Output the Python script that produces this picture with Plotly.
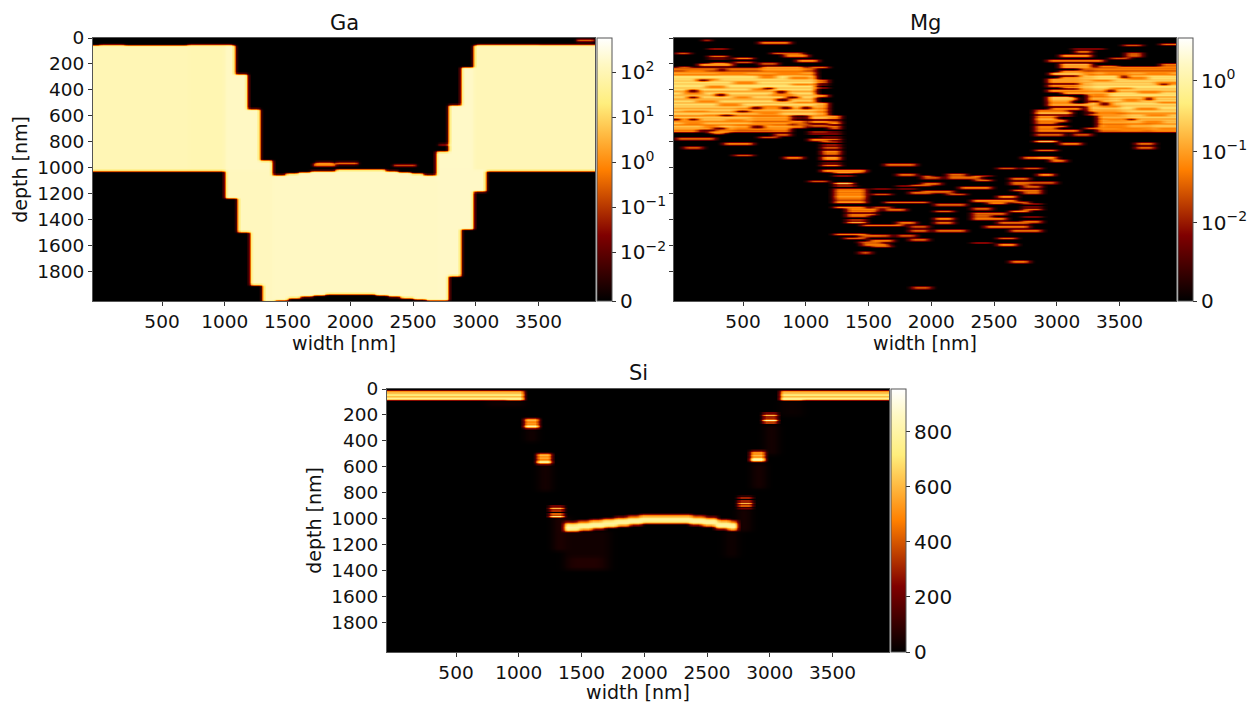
import numpy as np
import plotly.graph_objects as go

FONT = "DejaVu Sans"
X_TICKS = [500, 1000, 1500, 2000, 2500, 3000, 3500]
Y_TICKS = [0, 200, 400, 600, 800, 1000, 1200, 1400, 1600, 1800]
AFMHOT = [[0, "rgb(0,0,0)"], [0.25, "rgb(128,0,0)"], [0.5, "rgb(255,128,0)"],
          [0.75, "rgb(255,238,125)"], [0.9, "rgb(255,248,195)"], [1, "rgb(255,255,255)"]]

# --- Ga: stepped outline of the material (depth limits per width interval)
GA_TOP_EDGES = [-50, 1090, 1190, 1290, 1390, 1490, 1590, 1690, 1790, 1890, 1990, 2090, 2190, 2290,
                2390, 2490, 2590, 2690, 2790, 2890, 2990, 3950]
GA_TOP = [60, 273, 541, 948, 1060, 1050, 1040, 1030, 1022, 1018, 1015, 1015, 1018, 1025,
          1035, 1045, 1055, 871, 515, 227, 58]
GA_BOT_EDGES = [-50, 1005, 1105, 1205, 1305, 1405, 1505, 1605, 1705, 1805, 1905, 2005, 2105, 2205,
                2305, 2405, 2505, 2605, 2785, 2885, 2985, 3085, 3950]
GA_BOT = [1020, 1232, 1497, 1902, 2031, 2020, 2005, 1992, 1982, 1976, 1975, 1973, 1972, 1980,
          1992, 2005, 2018, 2020, 1832, 1477, 1186, 1020]
# (x0, x1, depth0, depth1, level)
GA_LEVELS = [(-50, 700, 0, 1020, 100), (700, 1090, 0, 1020, 93), (1005, 1390, 0, 1020, 150),
             (1005, 1390, 1020, 2040, 130), (1390, 2700, 1000, 2040, 150), (2690, 2990, 0, 1100, 165),
             (2990, 3950, 0, 1020, 105), (2700, 3090, 1020, 2040, 160)]
# (depth, x0, x1, level)
GA_STREAKS = [(50, 0, 200, 0.5), (50, 700, 1060, 1.2), (50, 3010, 3500, 2), (50, 3500, 3950, 0.8),
              (10, 3800, 3930, 1.2), (970, 1700, 1880, 3), (960, 1720, 1860, 2), (960, 1880, 2050, 2),
              (975, 2340, 2520, 2), (815, 2710, 2790, 2)]

# --- Mg: dense band rows, depth 230..720 every 10 nm
MG_ROW_DEPTHS = list(range(230, 730, 10))
MG_LEFT_ROWS = [.06, .12, .04, .15, .3, .1, .34, .38, .26, .4, .16, .38, .2, .38, .4, .16, .38, .34, .12, .4,
                .3, .16, .4, .2, .14, .38, .3, .12, .34, .18, .34, .12, .3, .18, .08, .26, .18, .04, .22, .12,
                .26, .07, .22, .16, .04, .2, .1, .15, .05, .08]
MG_RIGHT_ROWS = [.08, .15, .06, .22, .34, .12, .38, .3, .38, .16, .4, .2, .38, .16, .4, .34, .16, .38, .12, .4,
                 .3, .38, .07, .34, .2, .38, .12, .4, .3, .16, .38, .34, .15, .38, .2, .08, .3, .18, .26, .07,
                 .22, .16, .22, .05, .2, .22, .08, .15, .07, .04]
# (depth0, depth1, x limit) of the left block, (x start) for the right block
MG_LEFT_LIMITS = [(230, 500, 1076), (500, 600, 1182), (600, 730, 877)]
MG_RIGHT_LIMITS = [(230, 400, 3180), (400, 600, 3250), (600, 730, 3320)]
# dim stretches (depth0, depth1, x0, x1, factor)
MG_DIM = [(540, 600, 450, 800, .6), (610, 660, 560, 880, .5), (670, 730, 420, 880, .6), (500, 600, 1076, 1182, .45),
          (230, 280, -50, 1080, .35), (230, 280, 3180, 3950, .35), (560, 640, 3320, 3560, .6), (650, 730, 3320, 3750, .65),
          (400, 480, 3250, 3420, .55), (490, 600, 3250, 3500, .6), (230, 320, 3180, 3300, .6), (330, 400, 3180, 3270, .6)]
# orange dashes inside the bright band (depth, x0, x1)
MG_DASHES = [(250, 40, 200), (270, 300, 520), (270, 760, 960), (290, 620, 760), (300, 860, 1040), (310, 120, 300),
             (340, 420, 600), (350, 880, 1060), (370, 200, 350), (390, 560, 700), (420, 20, 180), (430, 720, 900),
             (450, 420, 560), (480, 120, 300), (490, 900, 1060), (510, 300, 480), (520, 640, 800), (560, 20, 220),
             (570, 620, 780), (590, 180, 340), (630, 360, 520), (650, 20, 180), (660, 560, 720), (680, 180, 300),
             (690, 420, 560), (260, 3380, 3560), (270, 3700, 3900), (300, 3560, 3720), (320, 3280, 3430), (340, 3780, 3950),
             (380, 3420, 3600), (410, 3640, 3820), (430, 3260, 3400), (470, 3520, 3660), (490, 3800, 3950), (520, 3340, 3500),
             (540, 3620, 3800), (570, 3320, 3480), (590, 3700, 3880), (620, 3400, 3520), (640, 3680, 3840), (670, 3360, 3560),
             (690, 3800, 3950), (700, 3500, 3680)]
# dark holes (depth, x0, x1)
MG_HOLES = [(325, 150, 220), (397, 70, 130), (428, 280, 360), (379, 670, 740), (410, 760, 830), (448, 70, 140),
            (453, 850, 930), (474, 770, 850), (556, 450, 530), (533, 560, 640), (531, 800, 880), (531, 960, 1030),
            (616, 55, 130), (616, -50, 0), (693, 260, 350), (608, 880, 1000), (675, 570, 650), (590, 330, 410),
            (240, 300, 360), (710, 150, 270), (350, 3820, 3880), (400, 3400, 3460), (500, 3350, 3420),
            (620, 3560, 3620), (290, 3500, 3560), (460, 3700, 3760), (480, 3270, 3330), (510, 3120, 3200), (570, 3230, 3300)]
# (depth, x0, x1, level)
MG_STREAKS = [
    (6, 186, 239, .04), (26, 624, 877, .05), (114, -40, 80, .04), (75, 226, 385, .08), (145, 226, 385, .04),
    (152, 425, 585, .08), (183, 425, 585, .04), (109, 717, 970, .05), (134, 824, 1010, .1), (170, 930, 1090, .07),
    (186, 624, 784, .04), (217, 1023, 1183, .06), (204, 133, 425, .1), (186, 240, 372, .06), (222, -27, 80, .05),
    (222, 637, 983, .15), (240, 637, 983, .1), (320, 1090, 1183, .06), (345, 1090, 1183, .04), (375, 1090, 1183, .06),
    (440, 1090, 1180, .08), (500, 1090, 1182, .1), (530, 1090, 1182, .05),
    (770, -40, 279, .05), (840, 26, 186, .04), (809, 332, 585, .05), (899, 425, 585, .04), (917, 824, 983, .05),
    (762, 624, 784, .04), (737, 731, 877, .05), (718, 226, 372, .12), (725, 270, 340, .12), (700, 730, 880, .1),
    (585, 1023, 1183, .12), (610, 1023, 1183, .2), (640, 1023, 1183, .08), (670, 1023, 1183, .05),
    (715, 1023, 1183, .15), (725, 1030, 1180, .12),
    (603, 1183, 1289, .15), (625, 1183, 1289, .05), (650, 1183, 1289, .12), (680, 1183, 1289, .05),
    (705, 1183, 1289, .04), (745, 1116, 1289, .04), (775, 1116, 1289, .04), (795, 1116, 1289, .15),
    (805, 1140, 1289, .15), (815, 1116, 1289, .1), (840, 1116, 1289, .04), (870, 1116, 1289, .1),
    (890, 1116, 1289, .04), (915, 1116, 1289, .1), (930, 1116, 1289, .08), (945, 1116, 1289, .04), (975, 1116, 1289, .06),
    (782, 1023, 1183, .06), (1101, 1023, 1183, .04), (640, 880, 1000, .08), (660, 900, 1010, .05), (680, 880, 1000, .06),
    (973, 1621, 1887, .06), (1050, 1728, 1887, .04), (1065, 1927, 1994, .05), (1127, 1834, 1994, .05),
    (1145, 1728, 1874, .05), (1155, 1528, 1688, .04), (1204, 1528, 1675, .04), (1186, 1821, 1994, .04),
    (1258, 1621, 1980, .06), (1297, 1528, 1675, .04), (1320, 1621, 1794, .04), (1418, 1728, 1874, .05),
    (1444, 1435, 1781, .07), (1451, 1821, 1980, .04), (1482, 1821, 1980, .05), (1516, 1728, 1887, .04),
    (1547, 1821, 1980, .05), (1521, 1528, 1688, .04), (1555, 1528, 1688, .05), (1601, 1528, 1688, .05),
    (1573, 1422, 1595, .05), (1650, 1422, 1528, .04),
    (1019, 1116, 1489, .08), (1045, 1223, 1382, .15), (1030, 1223, 1450, .06),
    (1115, 1223, 1382, .2), (1125, 1223, 1382, .25), (1135, 1223, 1400, .15), (1160, 1223, 1489, .06),
    (1180, 1223, 1489, .1), (1200, 1223, 1489, .08), (1220, 1223, 1489, .1),
    (1240, 1223, 1489, .05), (1258, 1223, 1489, .12), (1300, 1223, 1489, .1),
    (1320, 1330, 1580, .06), (1345, 1330, 1560, .1), (1370, 1330, 1500, .05), (1395, 1330, 1489, .15),
    (1405, 1330, 1489, .2), (1415, 1340, 1489, .12), (1510, 1223, 1489, .08), (1540, 1300, 1489, .05),
    (1520, 1420, 1600, .06), (1560, 1500, 1700, .04), (1590, 1450, 1650, .05),
    (916, 2725, 2977, .05), (922, 2831, 2990, .1), (942, 2937, 3030, .08), (999, 2525, 2685, .04), (999, 2725, 2884, .04),
    (1053, 2831, 2977, .07), (1066, 1914, 2073, .04), (1050, 2127, 2286, .04), (1071, 2127, 2392, .06), (1055, 2326, 2485, .06),
    (1086, 2339, 2485, .06), (1081, 2618, 2778, .04), (1110, 2618, 2990, .04), (1122, 2618, 2778, .04), (1117, 1914, 2073, .04),
    (1148, 2220, 2485, .05), (1143, 2725, 2884, .05), (1166, 2632, 2884, .07), (1194, 2725, 2884, .04),
    (1179, 1914, 2180, .06), (1200, 2127, 2286, .04), (1220, 2525, 2685, .07), (1246, 2326, 2685, .07), (1269, 2432, 2592, .08),
    (1259, 2632, 2778, .05), (1277, 2020, 2286, .05), (1285, 2725, 2884, .05), (1308, 2326, 2485, .05), (1315, 2725, 2884, .04),
    (1331, 2020, 2180, .05), (1333, 2618, 2778, .1), (1354, 2326, 2592, .06), (1369, 2326, 2485, .04), (1390, 2326, 2592, .05),
    (1393, 2020, 2180, .06), (1418, 2020, 2180, .04), (1375, 2725, 2884, .04), (1406, 2725, 2884, .06), (1424, 2525, 2778, .04),
    (1452, 2419, 2778, .07), (1478, 2618, 2884, .06), (1483, 2020, 2286, .06), (1547, 1914, 1980, .05), (1575, 2326, 2485, .06),
    (1544, 2525, 2685, .05), (1588, 2525, 2685, .07), (1720, 2618, 2778, .07), (1920, 1840, 1994, .04),
    (52, 3522, 3682, .04), (42, 3828, 3950, .06), (75, 3123, 3389, .05), (101, 3137, 3283, .04), (109, 3535, 3682, .04),
    (127, 3535, 3682, .05), (134, 3030, 3283, .12), (152, 3429, 3589, .04), (173, 2924, 3376, .05), (204, 3030, 3283, .15),
    (222, 3030, 3283, .15), (209, 3323, 3482, .08), (222, 3482, 3950, .08), (204, 3828, 3950, .05),
    (250, 3030, 3200, .12), (270, 2940, 3200, .2), (285, 3030, 3240, .15), (307, 2924, 3240, .15), (332, 2924, 3240, .15), (358, 2924, 3240, .1),
    (375, 3040, 3240, .12), (397, 2924, 3240, .12), (420, 3040, 3240, .15), (450, 2924, 3120, .2), (460, 2924, 3150, .25), (470, 2924, 3120, .2), (487, 2924, 3120, .1),
    (513, 2924, 3230, .12), (540, 2950, 3200, .06), (551, 2818, 3084, .06), (572, 2818, 3110, .1), (585, 2818, 3120, .15),
    (598, 2818, 3000, .12), (634, 2818, 3084, .1), (675, 2818, 3084, .05), (713, 2818, 3170, .06), (739, 2818, 3060, .05),
    (736, 3123, 3283, .04), (620, 2818, 3000, .2), (650, 2820, 3000, .06), (690, 2820, 3000, .07),
    (693, 3217, 3403, .05), (788, 2818, 2990, .2), (795, 2818, 2990, .2), (809, 3030, 3190, .05), (860, 2818, 2990, .06),
    (919, 2725, 2990, .05), (942, 2937, 3084, .05), (809, 3628, 3788, .04), (842, 3628, 3788, .05),
]

# --- Si: depth profiles of the top strip, the wall spots and the trench band
SI_STRIP_DEPTHS = [10, 20, 30, 40, 50, 60, 70, 80]
SI_STRIP_VALUES = [450, 580, 620, 770, 650, 560, 760, 520]
SI_STRIP_SPANS = [(-50, 1030), (3075, 3950)]
# (x0, x1, depths, values)
SI_SPOTS = [(1050, 1150, [220, 230, 240, 250, 260, 270, 280, 290, 300], [150, 420, 600, 420, 560, 500, 760, 820, 250]),
            (1150, 1250, [490, 500, 510, 520, 530, 540, 550, 560, 570, 580], [150, 420, 600, 430, 640, 480, 620, 840, 700, 200]),
            (1250, 1350, [895, 905, 915, 925, 935, 945, 955, 965, 975, 985], [150, 420, 600, 430, 640, 480, 620, 840, 700, 200]),
            (2750, 2850, [825, 835, 845, 855, 865, 875, 885, 895, 905, 915], [150, 420, 600, 430, 600, 460, 600, 820, 680, 200]),
            (2850, 2950, [470, 480, 490, 500, 510, 520, 530, 540, 550, 560], [150, 420, 600, 430, 600, 460, 600, 820, 680, 200]),
            (2950, 3050, [175, 185, 195, 205, 215, 225, 235, 245, 255, 265], [150, 420, 600, 430, 600, 460, 600, 820, 680, 200])]
SI_BAND_EDGES = [1370, 1470, 1570, 1670, 1770, 1870, 1970, 2070, 2170, 2270, 2370, 2470, 2570, 2670, 2730]
SI_BAND_CENTRE = [1060, 1050, 1040, 1030, 1020, 1010, 1000, 1000, 1000, 1000, 1010, 1020, 1040, 1050]
SI_BAND_OFFSETS = [-40, -30, -20, -10, 0, 10, 20, 30, 40]
SI_BAND_VALUES = [160, 380, 580, 700, 770, 790, 720, 540, 240]
# (x0, x1, depth0, depth1, level)
SI_FAINT = [(1290, 1390, 990, 1240, 60), (1370, 1710, 1100, 1390, 32), (1400, 1650, 1300, 1380, 62),
            (1060, 1140, 310, 400, 40), (1160, 1250, 590, 780, 40), (2740, 2840, 925, 1090, 45),
            (2640, 2740, 1100, 1290, 28), (2860, 2950, 575, 760, 45), (2960, 3050, 280, 500, 40),
            (3080, 3250, 90, 200, 18), (750, 1030, 90, 130, 25)]
SI_BRIGHT_ROW = [(85, 3090, 3250, 700), (80, 900, 1030, 650)]

KERNEL_SOFT = [1, 4, 1]
KERNEL_WIDE = [1, 2, 3, 2, 1]
KERNEL_TWO = [1, 2, 1]


def blank():
    xs = np.arange(-50, 3951, 20.0)
    ds = np.arange(0, 2041, 10.0)
    return xs, ds, np.zeros((len(ds), len(xs)))


def put_rect(z, xs, ds, x0, x1, d0, d1, v):
    z[np.ix_((ds >= d0) & (ds <= d1), (xs >= x0) & (xs <= x1))] = v


def put_row(z, xs, ds, d, x0, x1, v):
    r = int(round(d / 10))
    mask = (xs >= x0) & (xs <= x1)
    z[r, mask] = np.maximum(z[r, mask], v)


def blur(z, kernel, axis):
    k = np.array(kernel, float)
    k = k / k.sum()
    pad = len(k) // 2
    width = [(0, 0), (0, 0)]
    width[axis] = (pad, pad)
    p = np.pad(z, width, mode="edge")
    return np.apply_along_axis(lambda a: np.convolve(a, k, mode="valid"), axis, p)


def symlog(v, lin0, dec):
    v = np.asarray(v, dtype=float)
    return np.where(v < 0.01, lin0 * v / 0.01, lin0 + dec * (np.log10(np.maximum(v, 0.01)) + 2))


# Ga grid
xs, ds, ga = blank()
level = np.zeros_like(ga)
for x0, x1, d0, d1, v in GA_LEVELS:
    put_rect(level, xs, ds, x0, x1, d0, d1, v)
top = np.array(GA_TOP, float)[np.clip(np.searchsorted(GA_TOP_EDGES, xs, side="right") - 1, 0, len(GA_TOP) - 1)]
bot = np.array(GA_BOT, float)[np.clip(np.searchsorted(GA_BOT_EDGES, xs, side="right") - 1, 0, len(GA_BOT) - 1)]
for j in range(len(xs)):
    m = (ds >= top[j]) & (ds <= bot[j])
    ga[m, j] = level[m, j]
for d, x0, x1, v in GA_STREAKS:
    put_row(ga, xs, ds, d, x0, x1, v)
    put_row(ga, xs, ds, d + 10, x0, x1, v * 0.5)

# Mg grid
_, _, mg = blank()
for d, vl, vr in zip(MG_ROW_DEPTHS, MG_LEFT_ROWS, MG_RIGHT_ROWS):
    for d0, d1, lim in MG_LEFT_LIMITS:
        if d0 <= d < d1:
            put_row(mg, xs, ds, d, -50, lim, vl)
    for d0, d1, lim in MG_RIGHT_LIMITS:
        if d0 <= d < d1:
            put_row(mg, xs, ds, d, lim, 3950, vr)
for d0, d1, x0, x1, k in MG_DIM:
    sel = np.ix_((ds >= d0) & (ds <= d1), (xs >= x0) & (xs <= x1))
    mg[sel] *= k
for d, x0, x1 in MG_DASHES:
    r = int(round(d / 10))
    mg[r:r + 2, (xs >= x0) & (xs <= x1)] = 0.06
for d, x0, x1 in MG_HOLES:
    r = int(round(d / 10))
    mg[r:r + 2, (xs >= x0) & (xs <= x1)] = 0.006
for d, x0, x1, v in MG_STREAKS:
    put_row(mg, xs, ds, d, x0, x1, v)
    put_row(mg, xs, ds, d + 10, x0, x1, v * 0.45)

# Si grid
_, _, faint = blank()
for x0, x1, d0, d1, v in SI_FAINT:
    put_rect(faint, xs, ds, x0, x1, d0, d1, v)
faint = blur(blur(blur(faint, KERNEL_WIDE, 1), KERNEL_WIDE, 1), KERNEL_WIDE, 0)
_, _, si = blank()
for x0, x1 in SI_STRIP_SPANS:
    for d, v in zip(SI_STRIP_DEPTHS, SI_STRIP_VALUES):
        put_row(si, xs, ds, d, x0, x1, v)
for d, x0, x1, v in SI_BRIGHT_ROW:
    put_row(si, xs, ds, d, x0, x1, v)
for x0, x1, dd, vv in SI_SPOTS:
    for d, v in zip(dd, vv):
        put_row(si, xs, ds, d, x0, x1, v)
for i, c in enumerate(SI_BAND_CENTRE):
    for off, v in zip(SI_BAND_OFFSETS, SI_BAND_VALUES):
        put_row(si, xs, ds, c + off, SI_BAND_EDGES[i], SI_BAND_EDGES[i + 1], v)
si = blur(si, KERNEL_TWO, 1) + faint

GA_LIN0, GA_DEC = 0.186, 0.171
MG_LIN0, MG_DEC = 0.297, 0.27
LOG_TEXT = ["0", "10<sup>\u22122</sup>", "10<sup>\u22121</sup>", "10<sup>0</sup>", "10<sup>1</sup>", "10<sup>2</sup>"]
LOG_VALS = [0, 0.01, 0.1, 1, 10, 100]
W, H = 1247, 703


def cbar(left, top_px, bottom_px, tickvals, ticktext):
    return dict(x=left / W, xanchor="left", xpad=0, ypad=0, y=1 - bottom_px / H, yanchor="bottom",
                len=(bottom_px - top_px) / H, lenmode="fraction", thickness=15, thicknessmode="pixels",
                tickmode="array", tickvals=tickvals, ticktext=ticktext, ticks="outside", ticklen=4,
                tickcolor="#333", outlinecolor="#555", outlinewidth=1,
                tickfont=dict(family=FONT, size=20, color="#111"))


fig = go.Figure()
ga_t = blur(blur(symlog(ga, GA_LIN0, GA_DEC), KERNEL_SOFT, 1), KERNEL_SOFT, 0)
mg_t = blur(symlog(mg, MG_LIN0, MG_DEC), KERNEL_WIDE, 1)
ga_ticks = [float(symlog(v, GA_LIN0, GA_DEC)) for v in LOG_VALS]
mg_ticks = [float(symlog(v, MG_LIN0, MG_DEC)) for v in LOG_VALS[:4]]
common = dict(x0=-50, dx=20, y0=0, dy=10, colorscale=AFMHOT, zsmooth="best", hoverinfo="skip")
fig.add_trace(go.Heatmap(z=ga_t, zmin=0, zmax=1, xaxis="x", yaxis="y",
                         colorbar=cbar(597, 38, 301, ga_ticks, LOG_TEXT), **common))
fig.add_trace(go.Heatmap(z=mg_t, zmin=0, zmax=1, xaxis="x2", yaxis="y2",
                         colorbar=cbar(1178, 38, 301, mg_ticks, LOG_TEXT[:4]), **common))
fig.add_trace(go.Heatmap(z=si, zmin=0, zmax=956, xaxis="x3", yaxis="y3",
                         colorbar=cbar(891, 389, 652, [0, 200, 400, 600, 800], ["0", "200", "400", "600", "800"]), **common))

ax = dict(showgrid=False, zeroline=False, ticks="outside", ticklen=4, tickcolor="#333", showline=True,
          linecolor="#555", linewidth=1, mirror=True, tickfont=dict(family=FONT, size=18.5, color="#111"))
lab = dict(family=FONT, size=19, color="#111")


def xaxis(l, r, t, b, anchor):
    return dict(domain=[l / W, r / W], range=[-50, 3950], tickmode="array", tickvals=X_TICKS, anchor=anchor,
                title=dict(text="width [nm]", font=lab, standoff=4), **ax)


def yaxis(t, b, anchor, labels=True):
    d = dict(domain=[1 - b / H, 1 - t / H], range=[2031, 0], tickmode="array", tickvals=Y_TICKS, anchor=anchor,
             showticklabels=labels, **ax)
    if labels:
        d["title"] = dict(text="depth [nm]", font=lab, standoff=4)
    return d


fig.update_layout(
    width=W, height=H, autosize=False, margin=dict(l=0, r=0, t=0, b=0, autoexpand=False),
    paper_bgcolor="white", plot_bgcolor="black", showlegend=False,
    xaxis=xaxis(93, 595, 38, 301, "y"), yaxis=yaxis(38, 301, "x"),
    xaxis2=xaxis(674, 1176, 38, 301, "y2"), yaxis2=yaxis(38, 301, "x2", labels=False),
    xaxis3=xaxis(387, 889, 389, 652, "y3"), yaxis3=yaxis(389, 652, "x3"),
    annotations=[dict(text=t, x=x / W, y=1 - y / H, xref="paper", yref="paper", showarrow=False, xanchor="center",
                      yanchor="bottom", font=dict(family=FONT, size=21, color="#111"))
                 for t, x, y in [("Ga", 344, 37), ("Mg", 925, 37), ("Si", 638, 387)]],
)
fig.write_html("out.html", config={"displayModeBar": False}, post_script="document.body.style.margin='0';")
